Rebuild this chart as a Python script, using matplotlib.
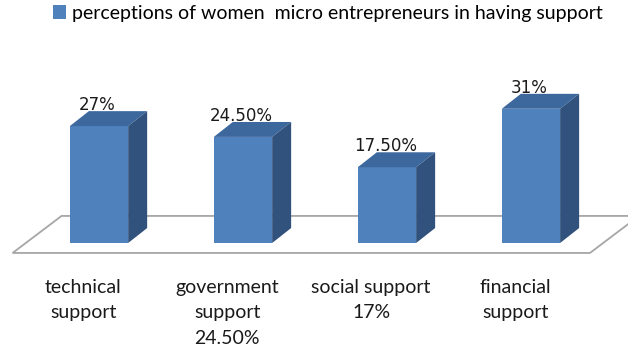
import matplotlib
matplotlib.use('Agg')
import matplotlib.pyplot as plt
from matplotlib.patches import Polygon

# Perceived support among women micro entrepreneurs (%)
categories = ['technical\nsupport', 'government\nsupport\n24.50%',
              'social support\n17%', 'financial\nsupport']
values = [27, 24.5, 17.5, 31]
value_labels = ['27%', '24.50%', '17.50%', '31%']
series_name = 'perceptions of women  micro entrepreneurs in having support'

FRONT = '#4F81BD'
TOP = '#3D689D'
SIDE = '#31527D'

fig = plt.figure(figsize=(6.28, 3.48), dpi=100)
ax = fig.add_axes([0, 0, 1, 1])
ax.set_xlim(-0.6875, 3.674)
ax.set_ylim(-24.25, 56.12)
ax.axis('off')

# fake 3d depth, in data units
bar_w = 0.405
dx, dy = 0.132, 3.45

# floor plane
fx0, fx1, fy = -0.60, 3.41, -2.3
fdx, fdy = 0.34, 8.55
floor = Polygon([(fx0, fy), (fx1, fy), (fx1 + fdx, fy + fdy), (fx0 + fdx, fy + fdy)],
                closed=True, facecolor='white', edgecolor='#a6a6a6', lw=1.3, zorder=1)
ax.add_patch(floor)

xs = list(range(len(values)))
bars = ax.bar(xs, values, width=bar_w, color=FRONT, zorder=3, label=series_name)

for x, v in zip(xs, values):
    l, r = x - bar_w / 2, x + bar_w / 2
    ax.add_patch(Polygon([(l, v), (r, v), (r + dx, v + dy), (l + dx, v + dy)],
                         closed=True, facecolor=TOP, edgecolor='none', zorder=3))
    ax.add_patch(Polygon([(r, 0), (r + dx, dy), (r + dx, v + dy), (r, v)],
                         closed=True, facecolor=SIDE, edgecolor='none', zorder=3))

for x, v, txt in zip(xs, values, value_labels):
    ax.annotate(txt, (x - 0.01, v), xytext=(0, 15), textcoords='offset points',
                ha='center', va='center', fontsize=12, color='#1a1a1a',
                family='DejaVu Sans', zorder=5)

# category labels, shifted a little left of the bars
for x, name in zip(xs, categories):
    ax.text(x - 0.11, -8.3, name, ha='center', va='top', fontsize=14,
            family='Lato', color='#1a1a1a', linespacing=1.6)

fig.legend(handles=[bars], labels=[series_name], loc='upper left',
           bbox_to_anchor=(0.0844, 0.986), frameon=False, borderaxespad=0,
           borderpad=0, handlelength=0.67, handleheight=0.67, handletextpad=0.3,
           prop={'family': 'Lato', 'size': 14})

fig.savefig('out.png', dpi=100)
